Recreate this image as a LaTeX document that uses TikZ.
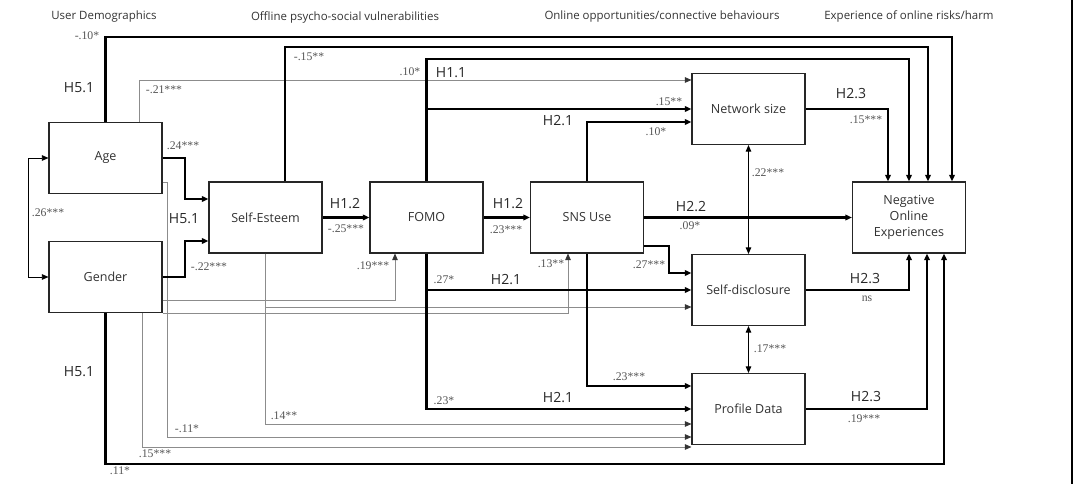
\documentclass[tikz,border=0pt]{standalone}
\usepackage{fontspec}
\setmainfont{Open Sans}
\newfontfamily\coeffont{Liberation Serif}
\usetikzlibrary{arrows.meta}
\definecolor{boxtext}{RGB}{50,50,50}
\definecolor{coefgray}{RGB}{85,85,85}
\definecolor{thingray}{RGB}{140,140,140}
\tikzset{
  box/.style={draw=black!85, line width=0.8pt, minimum width=84.75pt, minimum height=53.25pt, inner sep=0pt, align=center, font=\fontsize{9.4}{12}\selectfont, text=boxtext},
  head/.style={font=\fontsize{8.6}{10}\selectfont, text=black!80, inner sep=0pt},
  hyp/.style={font=\fontsize{10.5}{12}\selectfont, text=black!85, inner sep=0pt},
  coef/.style={font=\coeffont\fontsize{8.8}{10}\selectfont, text=coefgray, inner sep=0pt},
  tip/.style={-{Triangle[length=5pt,width=4.2pt]}},
  dtip/.style={{Triangle[length=5pt,width=4.2pt]}-{Triangle[length=5pt,width=4.2pt]}},
  thk/.style={line width=1.7pt, black, tip},
  thn/.style={line width=0.6pt, thingray, -{Triangle[length=5pt,width=4.2pt,black!80]}},
  med/.style={line width=0.7pt, black, dtip}
}
\begin{document}
\begin{tikzpicture}[x=0.75pt, y=-0.75pt]
\useasboundingbox (0,0) rectangle (1079,484);
% boxes
\node[box] (age) at (105.5,158) {Age};
\node[box] (gender) at (105.5,277) {Gender};
\node[box] (se) at (265.5,217.5) {Self-Esteem};
\node[box] (fomo) at (426.5,217.5) {FOMO};
\node[box] (sns) at (587,217.5) {SNS Use};
\node[box] (net) at (748.5,109) {Network size};
\node[box] (sd) at (748.5,290) {Self-disclosure};
\node[box] (pd) at (748.5,409) {Profile Data};
\node[box] (neg) at (909,217.5) {Negative\\Online\\Experiences};
% headers
\node[head] (h1) at (104,17) {User Demographics};
\node[head] (h2) at (345,17) {Offline psycho-social vulnerabilities};
\node[head] (h3) at (662,17) {Online opportunities/connective behaviours};
\node[head] (h4) at (909,16) {Experience of online risks/harm};
% right frame line
\coordinate (ft) at (1072,0);
\coordinate (fb) at (1072,484);
\draw[line width=0.8pt, black] (ft) -- (fb);
% thin gray connectors
\draw[thn] (139,0 |- age.north) |- (0,80 -| net.west);
\draw[thn] (gender.east |- 0,300) -| (395,0 |- fomo.south);
\draw[thn] (gender.south east) -| (568,0 |- sns.south);
\draw[thn] (se.south) |- (0,307 -| sd.west);
\draw[thn] (se.south) |- (0,424 -| pd.west);
\draw[thn] (age.east |- 0,182) -- (167,182) |- (0,437 -| pd.west);
\draw[thn] (142,0 |- gender.south) |- (0,447 -| pd.west);
% medium double arrows
\draw[med] (age.west) -- (28,158) -- (28,277) -- (gender.west);
\draw[med] (net.south) -- (sd.north);
\draw[med] (sd.south) -- (pd.north);
% thick connectors
\draw[thk] (age.north) |- (952,37) -- (952,0 |- neg.north);
\draw[thk] (285,0 |- se.north) |- (928,47) -- (928,0 |- neg.north);
\draw[thk] (fomo.north) |- (909,59) -- (909,0 |- neg.north);
\draw[thk] (fomo.north |- net.west) -- (net.west);
\draw[thk] (sns.north) |- (0,122 -| net.west);
\draw[thk] (net.east) -| (888,0 |- neg.north);
\draw[thk] (sns.east) -- (neg.west);
\draw[thk] (sns.east |- 0,246) -- (669,246) |- (0,273 -| sd.west);
\draw[thk] (fomo.south) |- (sd.west);
\draw[thk] (fomo.south) |- (pd.west);
\draw[thk] (sns.south) |- (0,386 -| pd.west);
\draw[thk] (sd.east) -| (909,0 |- neg.south);
\draw[thk] (pd.east) -| (927,0 |- neg.south);
\draw[thk] (gender.south) |- (944,464) -- (944,0 |- neg.south);
\draw[thk] (age.east) -- (185,158) |- (0,199 -| se.west);
\draw[thk] (gender.east) -- (185,277) |- (0,241 -| se.west);
\draw[thk] (se.east) -- (fomo.west);
\draw[thk] (fomo.east) -- (sns.west);
% hypothesis labels
\node[hyp] (l1) at (79,88) {H5.1};
\node[hyp] (l2) at (184,219) {H5.1};
\node[hyp] (l3) at (79,372) {H5.1};
\node[hyp] (l4) at (451,73) {H1.1};
\node[hyp] (l5) at (558,121) {H2.1};
\node[hyp] (l6) at (851,94) {H2.3};
\node[hyp] (l7) at (345,204) {H1.2};
\node[hyp] (l8) at (508,204) {H1.2};
\node[hyp] (l9) at (691,207) {H2.2};
\node[hyp] (l10) at (506,280) {H2.1};
\node[hyp] (l11) at (865,279) {H2.3};
\node[hyp] (l12) at (558,398) {H2.1};
\node[hyp] (l13) at (866,397) {H2.3};
% coefficients
\node[coef] (c1) at (87,36) {-.10*};
\node[coef] (c2) at (309,57) {-.15**};
\node[coef] (c3) at (164,90) {-.21***};
\node[coef] (c4) at (183,146) {.24***};
\node[coef] (c5) at (410,72) {.10*};
\node[coef] (c6) at (669,102) {.15**};
\node[coef] (c7) at (656,132) {.10*};
\node[coef] (c8) at (866,120) {.15***};
\node[coef] (c9) at (768,173) {.22***};
\node[coef] (c10) at (48,213) {.26***};
\node[coef] (c11) at (209,267) {-.22***};
\node[coef] (c12) at (346,229) {-.25***};
\node[coef] (c13) at (506,230) {.23***};
\node[coef] (c14) at (690,226) {.09*};
\node[coef] (c15) at (373,266) {.19***};
\node[coef] (c16) at (551,264) {.13**};
\node[coef] (c17) at (649,265) {.27***};
\node[coef] (c18) at (444,280) {.27*};
\node[coef] (c19) at (867,299) {ns};
\node[coef] (c20) at (770,349) {.17***};
\node[coef] (c21) at (629,377) {.23***};
\node[coef] (c22) at (444,401) {.23*};
\node[coef] (c23) at (864,419) {.19***};
\node[coef] (c24) at (284,416) {.14**};
\node[coef] (c25) at (187,429) {-.11*};
\node[coef] (c26) at (155,454) {.15***};
\node[coef] (c27) at (120,471) {.11*};
\end{tikzpicture}
\end{document}
